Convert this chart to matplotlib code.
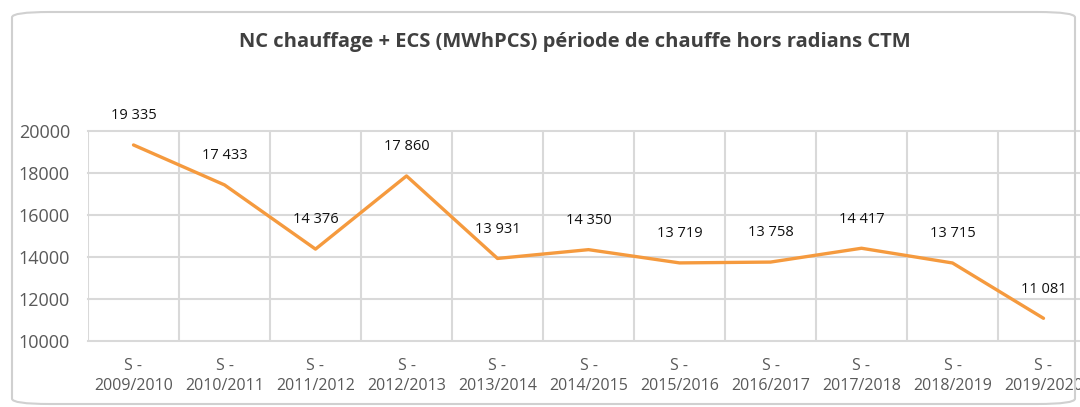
import matplotlib.pyplot as plt
from matplotlib.patches import FancyBboxPatch

seasons = ['2009/2010', '2010/2011', '2011/2012', '2012/2013', '2013/2014',
           '2014/2015', '2015/2016', '2016/2017', '2017/2018', '2018/2019',
           '2019/2020']
values = [19335, 17433, 14376, 17860, 13931, 14350, 13719, 13758, 14417, 13715, 11081]
labels = ['19 335', '17 433', '14 376', '17 860', '13 931', '14 350',
          '13 719', '13 758', '14 417', '13 715', '11 081']
yticks = [10000, 12000, 14000, 16000, 18000, 20000]

plt.rcParams['font.family'] = ['Open Sans', 'DejaVu Sans']

dpi = 100
fig = plt.figure(dpi=dpi, figsize=(1080 / dpi, 407 / dpi))

# rounded outer frame
frame = FancyBboxPatch((12 / 1080, 3 / 407), 1063 / 1080, 392 / 407,
                       boxstyle='round,pad=0,rounding_size=0.035',
                       transform=fig.transFigure, facecolor='none',
                       edgecolor='#d0d0d0', linewidth=1.5, mutation_aspect=407 / 1080)
fig.patches.append(frame)

ax = fig.add_axes([88 / 1080, 66 / 407, 1001 / 1080, 210 / 407])
ax.set_facecolor('none')
xs = list(range(len(values)))
ax.plot(xs, values, color='#f59a3e', linewidth=2.4, solid_capstyle='round',
        solid_joinstyle='round', zorder=3)

for x, v, t in zip(xs, values, labels):
    ax.annotate(t, (x, v), xytext=(0, 21), textcoords='offset points',
                ha='center', va='center', fontsize=10.5, color='#111111',
                annotation_clip=False)

ax.set_xlim(-0.5, len(values) - 0.5)
ax.set_ylim(10000, 20000)
ax.set_yticks(yticks)
ax.set_yticklabels([str(t) for t in yticks], fontsize=13, color='#595959')
ax.set_xticks(xs)
ax.set_xticklabels(['S -\n' + s for s in seasons], fontsize=11.5, color='#595959',
                   linespacing=1.4)
ax.tick_params(length=0, pad=12)
ax.tick_params(axis='y', pad=13)

for y in yticks:
    ax.axhline(y, color='#d9d9d9', linewidth=1.5, zorder=1, clip_on=False)
for b in range(len(values) + 1):
    ax.axvline(b - 0.5, color='#d9d9d9', linewidth=1.5, zorder=1)
for s in ax.spines.values():
    s.set_visible(False)

fig.text(575 / 1080, 1 - 42 / 407,
         'NC chauffage + ECS (MWhPCS) période de chauffe hors radians CTM',
         ha='center', va='center', fontsize=14.5, fontweight='bold', color='#404040')

fig.savefig('out.png', dpi=dpi)
